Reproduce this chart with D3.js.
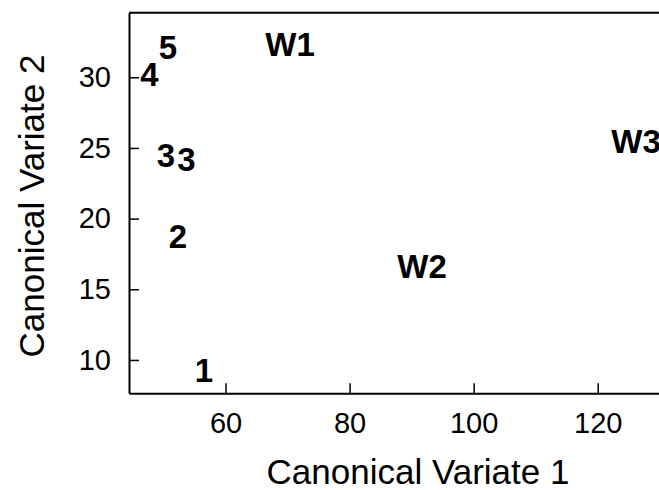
<!DOCTYPE html>
<html>
<head>
<meta charset="utf-8">
<script src="https://cdn.jsdelivr.net/npm/d3@7"></script>
<style>
  body { margin: 0; background: #fff; }
  svg { display: block; }
</style>
</head>
<body>
<div id="chart"></div>
<script>
// point labels and their canonical variate scores
var labels = ["4", "5", "W1", "3", "3", "2", "1", "W2", "W3"];
var cv1    = [47.75, 50.73, 70.4, 50.41, 53.71, 52.34, 56.53, 91.68, 126.18];
var cv2    = [30.23, 32.11, 32.36, 24.5, 24.18, 18.74, 9.29, 16.61, 25.46];

var xTicks = [60, 80, 100, 120];
var yTicks = [10, 15, 20, 25, 30];

var W = 659, H = 490;
var margin = {top: 12.7, right: 0, bottom: 96.7, left: 129},
    width = W - margin.left - margin.right,
    height = H - margin.top - margin.bottom;

var svg = d3.select("#chart")
  .append("svg")
    .attr("width", W)
    .attr("height", H);

var g = svg.append("g")
    .attr("transform", "translate(" + margin.left + "," + margin.top + ")");

// the plot runs past the right edge of the picture
var x = d3.scaleLinear()
    .domain([44.44, 129.88])
    .range([0, width]);

var y = d3.scaleLinear()
    .domain([7.64, 34.57])
    .range([height, 0]);

// frame: top line
g.append("line")
    .attr("x1", 0).attr("x2", width)
    .attr("y1", 0).attr("y2", 0)
    .attr("stroke", "#000").attr("stroke-width", 2);

var xAxis = g.append("g")
    .attr("transform", "translate(0," + height + ")")
    .call(d3.axisBottom(x).tickValues(xTicks).tickSizeInner(-10).tickSizeOuter(0).tickPadding(19));

var yAxis = g.append("g")
    .call(d3.axisLeft(y).tickValues(yTicks).tickSizeInner(-10).tickSizeOuter(0).tickPadding(18));

[xAxis, yAxis].forEach(function(a) {
  a.select(".domain").attr("stroke", "#000").attr("stroke-width", 2);
  a.selectAll(".tick line").attr("stroke", "#000").attr("stroke-width", 1.5);
  a.selectAll(".tick text")
    .attr("fill", "#000")
    .style("font-family", "Liberation Sans, Arial, sans-serif")
    .style("font-size", "29px");
});

// point labels
g.selectAll("text.pt")
    .data(labels)
    .enter()
    .append("text")
      .attr("class", "pt")
      .attr("x", function(d, i) { return x(cv1[i]); })
      .attr("y", function(d, i) { return y(cv2[i]); })
      .attr("text-anchor", "middle")
      .attr("dy", "0.36em")
      .style("font-family", "Liberation Sans, Arial, sans-serif")
      .style("font-weight", "bold")
      .style("font-size", "33px")
      .text(function(d) { return d; });

// axis titles
svg.append("text")
    .attr("x", 418)
    .attr("y", 484)
    .attr("text-anchor", "middle")
    .style("font-family", "Liberation Sans, Arial, sans-serif")
    .style("font-size", "35px")
    .text("Canonical Variate 1");

svg.append("text")
    .attr("transform", "translate(44,206) rotate(-90)")
    .attr("text-anchor", "middle")
    .style("font-family", "Liberation Sans, Arial, sans-serif")
    .style("font-size", "35px")
    .text("Canonical Variate 2");
</script>
</body>
</html>
